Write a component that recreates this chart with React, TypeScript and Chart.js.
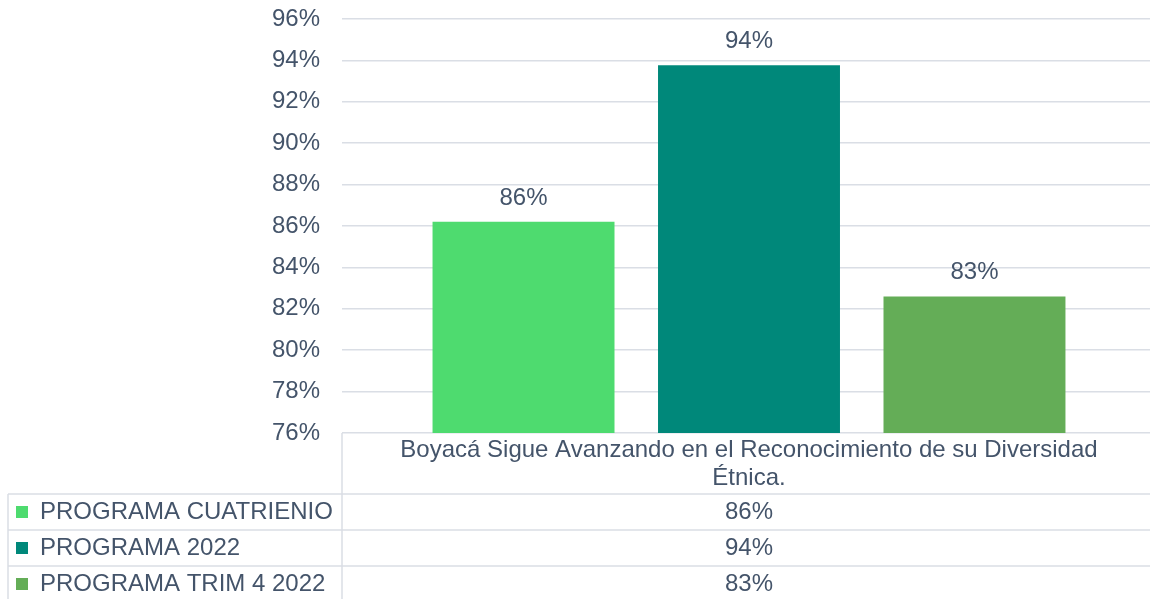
import React, { useEffect, useRef } from "react";
import { Chart, registerables } from "chart.js";

Chart.register(...registerables);

// ---- Data ----
const categoryLines: string[][] = [
  ["Boyacá Sigue Avanzando en el Reconocimiento de su Diversidad", "Étnica."],
];
const seriesNames: string[] = ["PROGRAMA CUATRIENIO", "PROGRAMA 2022", "PROGRAMA TRIM 4 2022"];
const cuatrienioValues: number[] = [0.862];
const programa2022Values: number[] = [0.9376];
const trim4Values: number[] = [0.826];
const seriesColors: string[] = ["#4edb6f", "#00887a", "#64ad57"];
const yMin = 0.76;
const yMax = 0.96;
const yStep = 0.02;

const TEXT = "#44546a";
const GRID = "#dadee5";
const FONT = "'Liberation Sans', Arial, sans-serif";
const FS = 24;

const pct = (v: number) => Math.round(v * 100) + "%";

const tablePlugin = {
  id: "tablePlugin",
  afterDraw(chart: any) {
    const ctx = chart.ctx;
    const area = chart.chartArea;
    const W = chart.width;
    const H = chart.height;
    const tableLeft = 8;
    const headerH = 61;
    const rowH = 36;
    const top = area.bottom;
    const xScale = chart.scales.x;

    ctx.save();
    ctx.font = `${FS}px ${FONT}`;
    ctx.fillStyle = TEXT;
    ctx.textAlign = "center";
    ctx.textBaseline = "alphabetic";

    chart.data.datasets.forEach((ds: any, i: number) => {
      const meta = chart.getDatasetMeta(i);
      meta.data.forEach((bar: any, j: number) => {
        ctx.fillText(pct(ds.data[j]), bar.x, bar.y - 17);
      });
    });

    ctx.strokeStyle = GRID;
    ctx.lineWidth = 1.5;
    ctx.beginPath();
    ctx.moveTo(area.left, top);
    ctx.lineTo(area.left, H);
    for (let r = 0; r < seriesNames.length; r++) {
      const y = top + headerH + r * rowH;
      ctx.moveTo(tableLeft, y);
      ctx.lineTo(W, y);
    }
    ctx.moveTo(tableLeft, top + headerH);
    ctx.lineTo(tableLeft, H);
    ctx.stroke();

    categoryLines.forEach((lines, c) => {
      const cx = xScale.getPixelForValue(c);
      lines.forEach((ln, k) => {
        ctx.fillText(ln, cx, top + 24 + k * 28);
      });
    });

    chart.data.datasets.forEach((ds: any, i: number) => {
      const rowTop = top + headerH + i * rowH;
      ctx.fillStyle = seriesColors[i];
      ctx.fillRect(16, rowTop + 12, 12, 12);
      ctx.fillStyle = TEXT;
      ctx.textAlign = "left";
      ctx.fillText(seriesNames[i], 40, rowTop + 25);
      ctx.textAlign = "center";
      ds.data.forEach((v: number, c: number) => {
        ctx.fillText(pct(v), xScale.getPixelForValue(c), rowTop + 25);
      });
    });
    ctx.restore();
  },
};

export default function App() {
  const ref = useRef<HTMLCanvasElement | null>(null);
  useEffect(() => {
    if (!ref.current) return;
    const chart = new Chart(ref.current, {
      type: "bar",
      data: {
        labels: categoryLines.map((l) => l.join(" ")),
        datasets: [
          { label: seriesNames[0], data: cuatrienioValues, backgroundColor: seriesColors[0] },
          { label: seriesNames[1], data: programa2022Values, backgroundColor: seriesColors[1] },
          { label: seriesNames[2], data: trim4Values, backgroundColor: seriesColors[2] },
        ],
      },
      options: {
        responsive: false,
        animation: false,
        devicePixelRatio: 1,
        layout: { padding: { top: 19, bottom: 166, left: 0, right: 14 } },
        datasets: { bar: { categoryPercentage: 0.831, barPercentage: 0.807 } },
        plugins: { legend: { display: false }, tooltip: { enabled: false } },
        scales: {
          x: { display: false },
          y: {
            min: yMin,
            max: yMax,
            ticks: {
              stepSize: yStep,
              callback: (v: any) => pct(Number(v)),
              color: TEXT,
              font: { family: FONT, size: FS },
              padding: 22,
            },
            grid: { color: GRID, lineWidth: 1.5, drawTicks: false },
            border: { display: false },
            afterFit: (s: any) => {
              s.width = 342;
              s.paddingTop = 0;
              s.paddingBottom = 0;
            },
          },
        },
      },
      plugins: [tablePlugin],
    } as any);
    return () => chart.destroy();
  }, []);
  return (
    <div
      style={{
        position: "fixed",
        left: 0,
        top: 0,
        width: 1150,
        height: 599,
        overflow: "hidden",
        background: "#fff",
      }}
    >
      <canvas ref={ref} width={1170} height={599} style={{ display: "block" }} />
    </div>
  );
}
